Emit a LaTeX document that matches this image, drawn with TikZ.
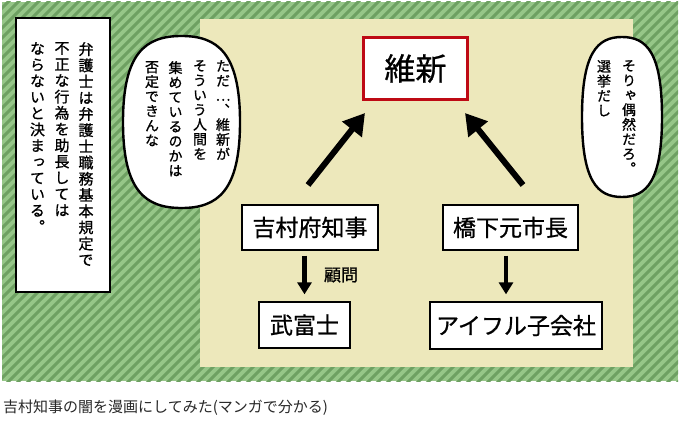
\documentclass[tikz,border=0pt]{standalone}
\usepackage{fontspec}
\setmainfont{Noto Sans CJK JP}
\newfontfamily\jp[RawFeature={embolden=0.9}]{Noto Sans CJK JP}
\newfontfamily\jpcap{Noto Sans CJK JP}
\newfontfamily\vjp[RawFeature={+vert,embolden=0.9}]{Noto Sans CJK JP}
\usetikzlibrary{arrows.meta}
\definecolor{grn}{RGB}{150,198,136}
\definecolor{grnd}{RGB}{110,160,98}
\definecolor{beige}{RGB}{237,232,187}
\definecolor{redb}{RGB}{190,10,20}
\definecolor{capc}{RGB}{40,40,40}
\makeatletter
\def\vcolA#1{\ifx\relax#1\else\hbox to 1em{\hss#1\hss}\expandafter\vcolA\fi}
\newcommand\vcol[1]{\vtop{\lineskiplimit=-\maxdimen\lineskip=0pt\vcolA#1\relax}}
\makeatother
% oval speech bubble: centre x, centre y, half width, half height
\newcommand\bubpath[4]{%
  ({#1},{#2-#4}) .. controls ({#1+0.62*#3},{#2-#4}) and ({#1+#3},{#2-0.8*#4}) .. ({#1+#3},{#2})
  .. controls ({#1+#3},{#2+0.8*#4}) and ({#1+0.62*#3},{#2+#4}) .. ({#1},{#2+#4})
  .. controls ({#1-0.62*#3},{#2+#4}) and ({#1-#3},{#2+0.8*#4}) .. ({#1-#3},{#2})
  .. controls ({#1-#3},{#2-0.8*#4}) and ({#1-0.62*#3},{#2-#4}) .. ({#1},{#2-#4}) -- cycle}
\begin{document}
\begin{tikzpicture}[x=1pt,y=-1pt,
  boxn/.style={draw=black, line width=1.3pt, fill=white, inner sep=0pt, font=\jp\fontsize{23}{23}\selectfont},
  bubble/.style={draw=black, line width=2.4pt, fill=white},
  vtnote/.style={inner sep=0pt, anchor=north, font=\vjp\fontsize{15}{16.2}\selectfont},
  vtbub/.style={inner sep=0pt, anchor=north, font=\vjp\fontsize{14}{14.7}\selectfont},
  bigarr/.style={line width=6pt, -{Triangle[length=21pt,width=24pt]}},
  downarr/.style={line width=4.5pt, -{Triangle[length=12pt,width=14pt]}}]
\useasboundingbox (0,0) rectangle (680,425);
\fill[white] (0,0) rectangle (680,425);
% striped green panel
\fill[grn] (2,2) rectangle (678,381);
\begin{scope}
  \clip (2,2) rectangle (678,381);
  \foreach \i in {-400,-390,...,690}
    \draw[grnd, line width=3pt] (\i,390) -- (\i+400,-10);
\end{scope}
% beige panel
\fill[beige] (200,19) rectangle (633,367);
% left note box
\node[draw=black, line width=1.3pt, fill=white, minimum width=94pt, minimum height=274pt, inner sep=0pt] (note) at (63,155) {};
\node[vtnote] (n1) at (86,42) {\vcol{弁護士は弁護士職務基本規定で}};
\node[vtnote] (n2) at (62,42) {\vcol{不正な行為を助長しては}};
\node[vtnote] (n3) at (37.5,42) {\vcol{ならないと決まっている。}};
% left bubble
\draw[bubble] \bubpath{181.5}{122}{58.5}{86};
\node[vtbub] (b1a) at (223,60) {\vcol{ただ…、維新が}};
\node[vtbub] (b1b) at (200,60) {\vcol{そういう人間を}};
\node[vtbub] (b1c) at (175.5,61) {\vcol{集めているのかは}};
\node[vtbub] (b1d) at (152,61) {\vcol{否定できんな}};
% right bubble
\draw[bubble] \bubpath{622}{117}{40}{80};
\node[vtbub] (b2a) at (629,60) {\vcol{そりゃ偶然だろ。}};
\node[vtbub] (b2b) at (604,60) {\vcol{選挙だし}};
% boxes
\node[draw=redb, line width=2.6pt, fill=white, inner sep=0pt, minimum width=104pt, minimum height=62pt, font=\jp\fontsize{31}{31}\selectfont] (ishin) at (415.5,68.5) {維新};
\node[boxn, minimum width=136pt, minimum height=45pt] (yoshimura) at (310,227.5) {吉村府知事};
\node[boxn, minimum width=135pt, minimum height=45pt] (hashimoto) at (510.5,227.5) {橋下元市長};
\node[boxn, minimum width=91pt, minimum height=46pt] (takefuji) at (304.5,325) {武富士};
\node[boxn, minimum width=172pt, minimum height=47pt] (aiful) at (516,325.5) {アイフル子会社};
% arrows
\coordinate (l1) at (308,185);
\coordinate (l2) at (365,113);
\coordinate (r1) at (523,185);
\coordinate (r2) at (465,113);
\draw[bigarr] (l1) -- (l2);
\draw[bigarr] (r1) -- (r2);
\draw[downarr, shorten <=5pt, shorten >=7pt] (takefuji.north |- yoshimura.south) -- (takefuji.north);
\draw[downarr, shorten <=5pt, shorten >=7pt] ([xshift=-4.5pt]hashimoto.south) -- ([xshift=-4.5pt]hashimoto.south |- aiful.north);
\node[inner sep=0pt, font=\jp\fontsize{17}{17}\selectfont] (komon) at (341,275) {顧問};
% caption
\node[anchor=west, inner sep=0pt, text=capc, font=\jpcap\fontsize{15}{15}\selectfont] (cap) at (3,408) {吉村知事の闇を漫画にしてみた(マンガで分かる)};
\end{tikzpicture}
\end{document}
